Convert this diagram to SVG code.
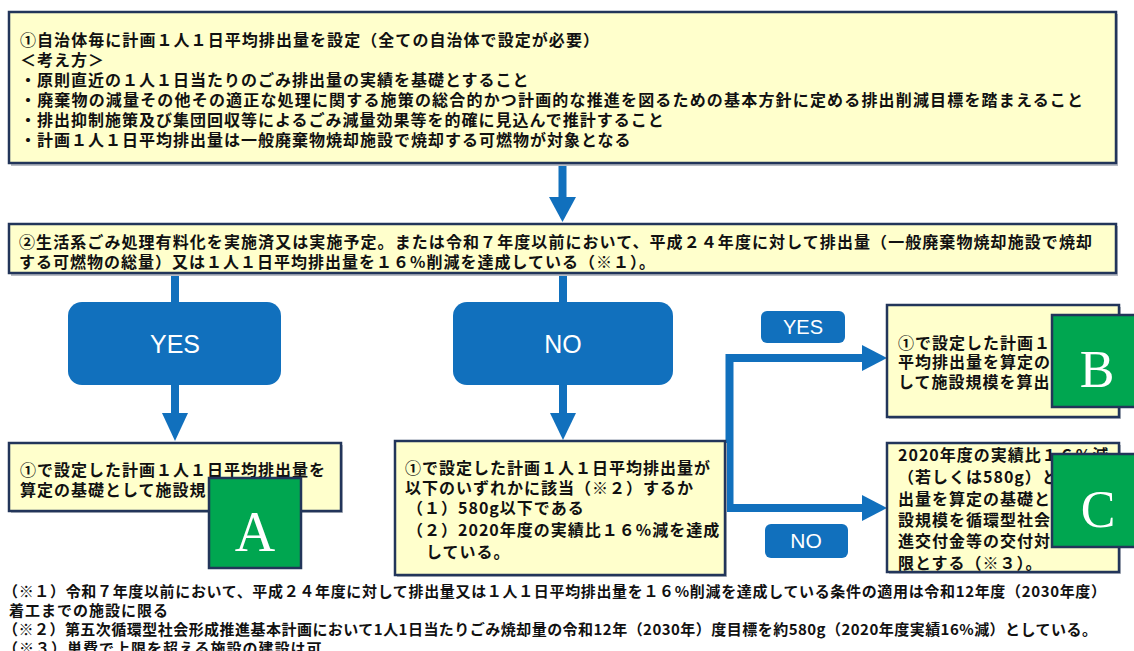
<svg xmlns="http://www.w3.org/2000/svg" width="1134" height="651" viewBox="0 0 1134 651">
<defs>
<style>
.box{fill:#ffffcc;stroke:#22355a;stroke-width:2.5}
.sh{fill:#b8bcc4}
.t{font-family:"Noto Sans CJK JP","Noto Sans CJK SC",sans-serif;font-size:16px;font-weight:700;fill:#111;letter-spacing:1px}
.fn{font-family:"Noto Sans CJK JP","Noto Sans CJK SC",sans-serif;font-size:15px;font-weight:700;fill:#111;letter-spacing:1px}
.blue{fill:#1170bd}
.wire{fill:none;stroke:#1170bd;stroke-width:8}
.lbl{font-family:"Liberation Sans",Arial,sans-serif;fill:#fff;text-anchor:middle}
.grn{fill:#00a650;stroke:#22355a;stroke-width:2.5}
.let{font-family:"Liberation Serif","Times New Roman",serif;fill:#fff;text-anchor:middle}
</style>
</defs>
<rect width="1134" height="651" fill="#fff"/>

<g id="connectors">
  <line class="wire" x1="562.5" y1="164" x2="562.5" y2="200"/>
  <polygon class="blue" points="549,197 576,197 562.5,222"/>
  <line class="wire" x1="175" y1="274" x2="175" y2="304"/>
  <line class="wire" x1="175" y1="384" x2="175" y2="416"/>
  <polygon class="blue" points="162,413 188,413 175,441"/>
  <line class="wire" x1="563" y1="274" x2="563" y2="304"/>
  <line class="wire" x1="563" y1="384" x2="563" y2="416"/>
  <polygon class="blue" points="550,413 576,413 563,440"/>
  <path class="wire" d="M865,358 H729.5 V508 H865" stroke-linejoin="miter"/>
  <polygon class="blue" points="862,345 862,371 887,358"/>
  <polygon class="blue" points="862,495 862,521 887,508"/>
</g>

<g id="node-top">
  <rect class="sh" x="11" y="14" width="1107" height="152"/>
  <rect class="box" x="9" y="12" width="1107" height="151"/>
  <text class="t" x="20" y="46" textLength="580">①自治体毎に計画１人１日平均排出量を設定（全ての自治体で設定が必要）</text>
  <text class="t" x="20" y="66">＜考え方＞</text>
  <text class="t" x="20" y="86">・原則直近の１人１日当たりのごみ排出量の実績を基礎とすること</text>
  <text class="t" x="20" y="106" textLength="1064">・廃棄物の減量その他その適正な処理に関する施策の総合的かつ計画的な推進を図るための基本方針に定める排出削減目標を踏まえること</text>
  <text class="t" x="20" y="126">・排出抑制施策及び集団回収等によるごみ減量効果等を的確に見込んで推計すること</text>
  <text class="t" x="20" y="146">・計画１人１日平均排出量は一般廃棄物焼却施設で焼却する可燃物が対象となる</text>
</g>

<g id="node-condition">
  <rect class="sh" x="11" y="226" width="1107" height="50"/>
  <rect class="box" x="9" y="224" width="1107" height="49"/>
  <text class="t" x="19" y="248" textLength="1074">②生活系ごみ処理有料化を実施済又は実施予定。または令和７年度以前において、平成２４年度に対して排出量（一般廃棄物焼却施設で焼却</text>
  <text class="t" x="19" y="268">する可燃物の総量）又は１人１日平均排出量を１６%削減を達成している（※１）。</text>
</g>

<g id="node-yes">
  <rect class="blue" x="68" y="302" width="213" height="83" rx="14"/>
  <text class="lbl" x="175" y="353" font-size="25">YES</text>
</g>

<g id="node-no">
  <rect class="blue" x="453" y="302" width="220" height="83" rx="14"/>
  <text class="lbl" x="563" y="353" font-size="25">NO</text>
</g>

<g id="node-a">
  <rect class="sh" x="11" y="445" width="332" height="68"/>
  <rect class="box" x="9" y="443" width="332" height="68"/>
  <text class="t" x="20" y="476">①で設定した計画１人１日平均排出量を</text>
  <text class="t" x="20" y="496">算定の基礎として施設規</text>
  <rect class="grn" x="209" y="478" width="92" height="90"/>
  <text class="let" x="255" y="551" font-size="56">A</text>
</g>

<g id="node-check">
  <rect class="sh" x="397" y="443" width="330" height="134"/>
  <rect class="box" x="395" y="441" width="330" height="134"/>
  <text class="t" x="405" y="474">①で設定した計画１人１日平均排出量が</text>
  <text class="t" x="405" y="494">以下のいずれかに該当（※２）するか</text>
  <text class="t" x="407" y="514">（１）580g以下である</text>
  <text class="t" x="407" y="536">（２）2020年度の実績比１６%減を達成</text>
  <text class="t" x="426" y="558">している。</text>
</g>

<g id="label-yes">
  <rect class="blue" x="761" y="311" width="84" height="32" rx="6"/>
  <text class="lbl" x="803" y="334" font-size="20">YES</text>
</g>

<g id="label-no">
  <rect class="blue" x="765" y="524" width="83" height="34" rx="6"/>
  <text class="lbl" x="806" y="548" font-size="21">NO</text>
</g>

<g id="node-b">
  <rect class="sh" x="889" y="307" width="232" height="112"/>
  <rect class="box" x="887" y="305" width="232" height="112"/>
  <text class="t" x="898" y="349">①で設定した計画１</text>
  <text class="t" x="898" y="368">平均排出量を算定の</text>
  <text class="t" x="898" y="388">して施設規模を算出</text>
  <rect class="grn" x="1052" y="315" width="95" height="92"/>
  <text class="let" x="1097" y="387" font-size="52">B</text>
</g>

<g id="node-c">
  <rect class="sh" x="889" y="445" width="232" height="129"/>
  <rect class="box" x="887" y="443" width="232" height="129"/>
  <text class="t" x="898" y="461">2020年度の実績比１６%減</text>
  <text class="t" x="898" y="483">（若しくは580g）と</text>
  <text class="t" x="898" y="505">出量を算定の基礎と</text>
  <text class="t" x="898" y="526">設規模を循環型社会</text>
  <text class="t" x="898" y="547">進交付金等の交付対</text>
  <text class="t" x="898" y="569">限とする（※３）。</text>
  <rect class="grn" x="1052" y="454" width="95" height="93"/>
  <text class="let" x="1098" y="527" font-size="52">C</text>
</g>

<g id="footnotes">
  <text class="fn" x="3" y="597" textLength="1104">（※１）令和７年度以前において、平成２４年度に対して排出量又は１人１日平均排出量を１６%削減を達成している条件の適用は令和12年度（2030年度）</text>
  <text class="fn" x="9" y="616">着工までの施設に限る</text>
  <text class="fn" x="3" y="635" textLength="1095">（※２）第五次循環型社会形成推進基本計画において1人1日当たりごみ焼却量の令和12年（2030年）度目標を約580g（2020年度実績16%減）としている。</text>
  <text class="fn" x="3" y="654">（※３）単費で上限を超える施設の建設は可</text>
</g>
</svg>
